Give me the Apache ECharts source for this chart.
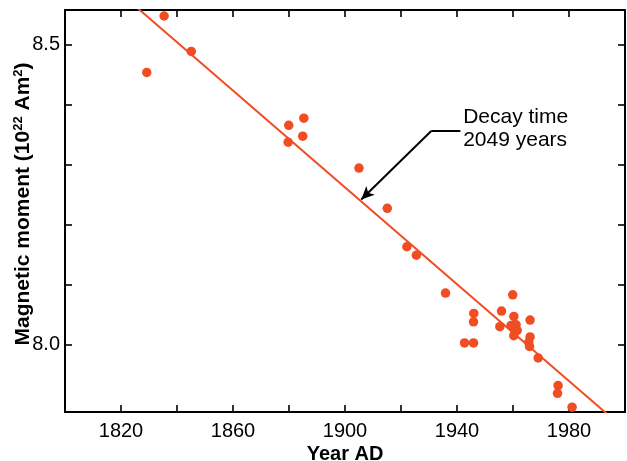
<!DOCTYPE html>
<html>
<head>
<meta charset="utf-8">
<script src="https://cdn.jsdelivr.net/npm/echarts@6/dist/echarts.min.js"></script>
<style>
html,body{margin:0;padding:0;background:#fff;}
#chart{width:627px;height:461px;}
</style>
</head>
<body>
<div id="chart"></div>
<script>
// ---- data ----
const years = [1829.2, 1835.4, 1845.1, 1879.9, 1885.3, 1879.7, 1884.9, 1905.0, 1915.1, 1922.1, 1925.5,
  1935.9, 1946.0, 1945.9, 1942.7, 1945.9, 1955.9, 1955.3, 1959.9, 1960.3, 1959.3, 1961.1, 1960.8,
  1960.3, 1966.1, 1966.1, 1965.6, 1965.9, 1969.0, 1976.1, 1975.9, 1981.1, 1961.5];
const moments = [8.453, 8.547, 8.488, 8.365, 8.377, 8.337, 8.347, 8.294, 8.227, 8.163, 8.149,
  8.086, 8.052, 8.038, 8.003, 8.003, 8.056, 8.030, 8.083, 8.047, 8.032, 8.033, 8.023,
  8.015, 8.041, 8.013, 8.004, 7.997, 7.978, 7.932, 7.919, 7.896, 8.024];
const fitYears = [1820, 2000];
const fitMoments = [8.584, 7.859];
const xTicks = [1820, 1840, 1860, 1880, 1900, 1920, 1940, 1960, 1980];
const xLabels = [1820, 1860, 1900, 1940, 1980];
const yTicks = [8.0, 8.1, 8.2, 8.3, 8.4, 8.5];
const yLabels = [8.0, 8.5];
const arrowStart = [1941.2, 8.3555];
const arrowElbow = [1930.8, 8.3555];
const arrowTip = [1905.8, 8.2417];
const annotAnchor = [1942.2, 8.398];
const annotText = 'Decay time\n2049 years';

const RED = '#F04D23';
const FONT = '"Liberation Sans", Arial, Helvetica, sans-serif';

const chart = echarts.init(document.getElementById('chart'), null, {renderer: 'canvas'});

const axisLine = {show: true, onZero: false, lineStyle: {color: '#000', width: 2}};
const tickStyle = {color: '#000', width: 1.6};

const option = {
  animation: false,
  backgroundColor: '#fff',
  grid: {left: 65, right: 2, top: 10, bottom: 49, containLabel: false, outerBoundsMode: 'none'},
  xAxis: [{
    type: 'value', min: 1800, max: 2000, position: 'bottom',
    name: 'Year AD', nameLocation: 'middle', nameGap: 32, nameMoveOverlap: false,
    nameTextStyle: {fontFamily: FONT, fontWeight: 'bold', fontSize: 20, color: '#000'},
    axisLine: axisLine,
    axisTick: {show: true, inside: true, length: 7, lineStyle: tickStyle, customValues: xTicks},
    axisLabel: {show: true, margin: 9, fontFamily: FONT, fontSize: 20, color: '#000', customValues: xLabels,
      formatter: v => String(Math.round(v))},
    splitLine: {show: false}
  }, {
    type: 'value', min: 1800, max: 2000, position: 'top',
    axisLine: axisLine,
    axisTick: {show: true, inside: true, length: 7, lineStyle: tickStyle, customValues: xTicks},
    axisLabel: {show: false},
    splitLine: {show: false}
  }],
  yAxis: [{
    type: 'value', min: 7.888, max: 8.557, position: 'left',
    name: '{b|Magnetic moment (10}{s|22}{b| Am}{s|2}{b|)}', nameLocation: 'middle', nameGap: 31, nameRotate: 90,
    nameMoveOverlap: false,
    nameTextStyle: {
      fontFamily: FONT, fontWeight: 'bold', fontSize: 21, color: '#000', padding: [0, 0, 0, 14],
      rich: {
        b: {fontFamily: FONT, fontWeight: 'bold', fontSize: 21, color: '#000'},
        s: {fontFamily: FONT, fontWeight: 'bold', fontSize: 13, color: '#000', verticalAlign: 'top', padding: [0, 0, 9, 0]}
      }
    },
    axisLine: axisLine,
    axisTick: {show: true, inside: true, length: 7, lineStyle: tickStyle, customValues: yTicks},
    axisLabel: {show: true, margin: 5, fontFamily: FONT, fontSize: 20, color: '#000', customValues: yLabels,
      formatter: v => Number(v).toFixed(1)},
    splitLine: {show: false}
  }, {
    type: 'value', min: 7.888, max: 8.557, position: 'right',
    axisLine: axisLine,
    axisTick: {show: true, inside: true, length: 7, lineStyle: tickStyle, customValues: yTicks},
    axisLabel: {show: false},
    splitLine: {show: false}
  }],
  series: [{
    type: 'line',
    data: fitYears.map((y, i) => [y, fitMoments[i]]),
    symbol: 'none', clip: true, z: 2,
    lineStyle: {color: RED, width: 2},
    silent: true,
    markLine: {
      silent: true, animation: false,
      symbol: ['none', 'none'],
      label: {show: false},
      lineStyle: {color: '#000', width: 2, type: 'solid'},
      emphasis: {disabled: true},
      data: [
        [{coord: arrowStart, symbol: 'none'}, {coord: arrowElbow, symbol: 'none'}],
        [{coord: arrowElbow, symbol: 'none'}, {coord: arrowTip, symbol: 'arrow', symbolSize: [9, 13]}]
      ]
    }
  }, {
    type: 'scatter',
    data: years.map((y, i) => [y, moments[i]]),
    symbol: 'circle', symbolSize: 9.5, z: 3,
    itemStyle: {color: RED, opacity: 1},
    silent: true
  }]
};
chart.setOption(option);

const p = chart.convertToPixel({gridIndex: 0}, annotAnchor);
chart.setOption({
  graphic: [{
    type: 'text', x: p[0], y: p[1], silent: true,
    style: {text: annotText, fontFamily: FONT, fontSize: 21, lineHeight: 23, fill: '#000',
      align: 'left', verticalAlign: 'top'}
  }]
});
</script>
</body>
</html>
